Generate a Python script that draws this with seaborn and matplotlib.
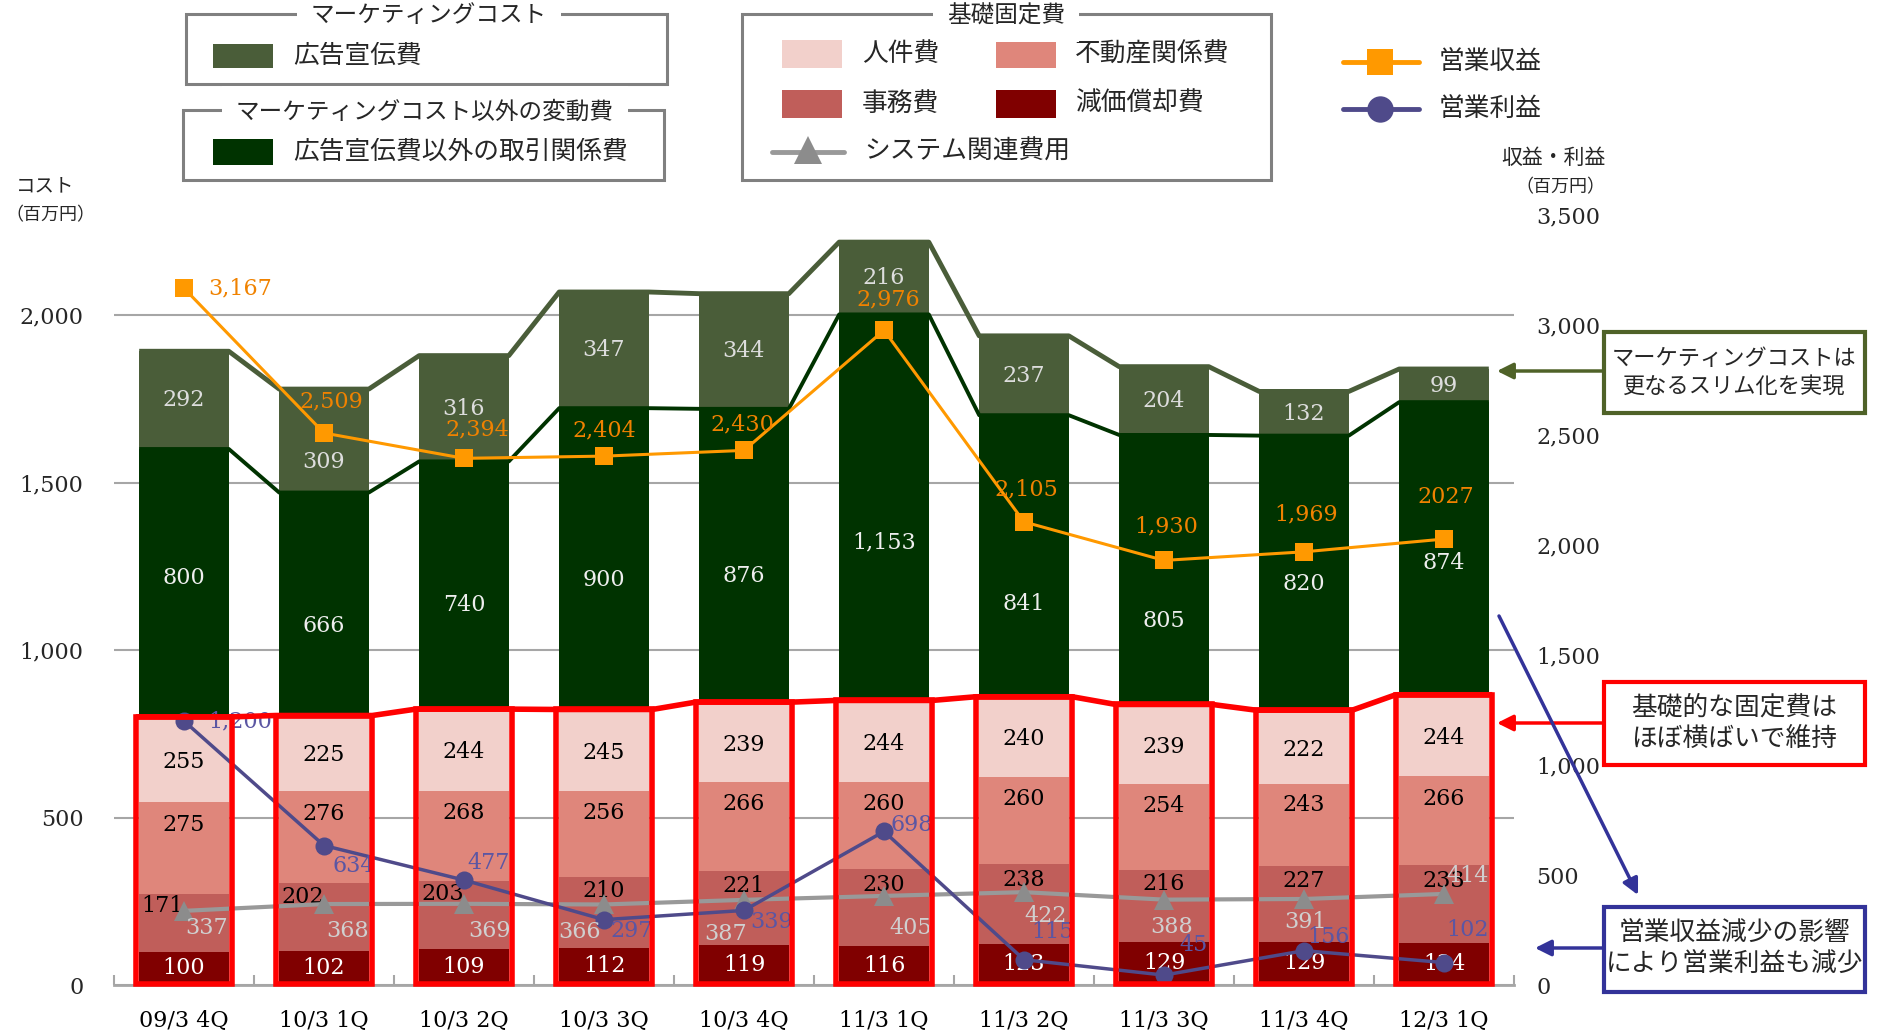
import numpy as np
import pandas as pd
import matplotlib
matplotlib.use("Agg")
import matplotlib.pyplot as plt
from matplotlib.patches import Rectangle, FancyArrowPatch
from matplotlib.lines import Line2D
from matplotlib.ticker import StrMethodFormatter
import seaborn as sns

# ---- data (百万円) ----
quarters = ["09/3 4Q", "10/3 1Q", "10/3 2Q", "10/3 3Q", "10/3 4Q",
            "11/3 1Q", "11/3 2Q", "11/3 3Q", "11/3 4Q", "12/3 1Q"]
depreciation = [100, 102, 109, 112, 119, 116, 123, 129, 129, 124]      # 減価償却費
office = [171, 202, 203, 210, 221, 230, 238, 216, 227, 233]            # 事務費
real_estate = [275, 276, 268, 256, 266, 260, 260, 254, 243, 266]       # 不動産関係費
personnel = [255, 225, 244, 245, 239, 244, 240, 239, 222, 244]         # 人件費
transaction = [800, 666, 740, 900, 876, 1153, 841, 805, 820, 874]      # 広告宣伝費以外の取引関係費
advertising = [292, 309, 316, 347, 344, 216, 237, 204, 132, 99]        # 広告宣伝費
revenue = [3167, 2509, 2394, 2404, 2430, 2976, 2105, 1930, 1969, 2027] # 営業収益
profit = [1200, 634, 477, 297, 339, 698, 115, 45, 156, 102]            # 営業利益
system_cost = [337, 368, 369, 366, 387, 405, 422, 388, 391, 414]       # システム関連費用
revenue_text = ["3,167", "2,509", "2,394", "2,404", "2,430",
                "2,976", "2,105", "1,930", "1,969", "2027"]

# ---- colours ----
C_ADV = "#4a5d39"
C_TRX = "#003300"
C_PER = "#f2d0cb"
C_EST = "#df867b"
C_OFF = "#c05e5a"
C_DEP = "#800000"
C_REV = "#ff9900"
C_PRO = "#4f4a8a"
C_SYS = "#999999"
C_RED = "#ff0000"
C_BLUE = "#333399"
C_OLIVE = "#4f6228"

W, H = 1877, 1032
sns.set_theme(style="white")
plt.rcParams["font.family"] = ["Noto Sans CJK JP", "DejaVu Sans"]
SERIF = ["DejaVu Serif"]

fig = plt.figure(figsize=(W / 100, H / 100), dpi=100)


def fx(x):
    return x / W


def fy(y):
    return 1 - y / H


ax = fig.add_axes([fx(114), fy(985), (1514 - 114) / W, (985 - 215) / H])
n = len(quarters)
xpos = np.arange(n)
BW = 0.64

df = pd.DataFrame({
    "quarter": quarters, "dep": depreciation, "off": office, "est": real_estate,
    "per": personnel, "trx": transaction, "adv": advertising,
})
layers = [("dep", C_DEP), ("off", C_OFF), ("est", C_EST), ("per", C_PER),
          ("trx", C_TRX), ("adv", C_ADV)]
tops = {}
acc = np.zeros(n)
bottoms = {}
for key, _ in layers:
    bottoms[key] = acc.copy()
    acc = acc + df[key].to_numpy()
    tops[key] = acc.copy()

# stacked bars: draw cumulative heights from the tallest down
for key, color in reversed(layers):
    sns.barplot(x=df["quarter"], y=tops[key], color=color, saturation=1,
                width=BW, errorbar=None, linewidth=0, ax=ax, zorder=2)

ax.set_xlim(-0.5, n - 0.5)
ax.set_ylim(0, 2300)
ax.set_yticks([0, 500, 1000, 1500, 2000])
ax.yaxis.set_major_formatter(StrMethodFormatter("{x:,.0f}"))
ax.yaxis.grid(True, color="#a6a6a6", lw=1.5)
ax.set_axisbelow(True)
for s in ["left", "top", "right"]:
    ax.spines[s].set_visible(False)
ax.spines["bottom"].set_color("#a6a6a6")
ax.spines["bottom"].set_linewidth(2)
ax.set_xlabel("")
ax.set_ylabel("")
ax.set_xticks(xpos)
ax.set_xticklabels(quarters, fontfamily=SERIF, fontsize=16)
ax.set_xticks(np.arange(-0.5, n, 1.0), minor=True)
ax.tick_params(axis="x", which="major", length=0, pad=18, colors="black")
ax.tick_params(axis="x", which="minor", length=7, width=1.5, direction="in",
               color="#a6a6a6", bottom=True)
ax.tick_params(axis="y", length=0, pad=22, labelsize=16)
for t in ax.get_yticklabels():
    t.set_fontfamily(SERIF)


# series lines joining the stack levels between bars
def series_line(level, color, lw, half, target, tf):
    xs, ys = [], []
    for i in range(n):
        xs += [i - half, i + half]
        ys += [level[i], level[i]]
    target.plot(xs, ys, color=color, lw=lw, transform=tf, zorder=3,
                solid_capstyle="butt", clip_on=False)


series_line(tops["adv"], C_ADV, 3.5, BW / 2, ax, ax.transData)
series_line(tops["trx"], C_TRX, 2.8, BW / 2, ax, ax.transData)

# segment value labels: vertical placement inside each segment
label_pos = {
    "dep": [0.5] * n,
    "off": [0.8] * n,
    "est": [0.75] * n,
    "per": [0.47] * n,
    "trx": [0.52, 0.40, 0.42, 0.43, 0.43, 0.41, 0.33, 0.31, 0.46, 0.45],
    "adv": [0.5, 0.3, 0.5, 0.5, 0.5, 0.5, 0.5, 0.5, 0.5, 0.5],
}
label_color = {"dep": "white", "off": "black", "est": "black", "per": "black",
               "trx": "#eeeeee", "adv": "#dddddd"}
for key, _ in layers:
    vals = df[key].to_numpy()
    for i in range(n):
        dx = -0.15 if (key == "off" and i < 3) else 0.0
        ax.text(i + dx, bottoms[key][i] + vals[i] * label_pos[key][i], f"{vals[i]:,}",
                ha="center", va="center", fontsize=16, color=label_color[key],
                fontfamily=SERIF, zorder=4)

# ---- right axis: revenue / profit / system cost ----
ax2 = ax.twinx()
ax2.set_ylim(0, 3500)
ax2.set_yticks(np.arange(0, 3501, 500))
ax2.yaxis.set_major_formatter(StrMethodFormatter("{x:,.0f}"))
ax2.tick_params(axis="y", length=0, pad=16, labelsize=16)
for t in ax2.get_yticklabels():
    t.set_fontfamily(SERIF)
for s in ax2.spines.values():
    s.set_visible(False)
ax2.grid(False)

sns.lineplot(x=xpos, y=system_cost, ax=ax2, color=C_SYS, lw=3, marker="^",
             markersize=15, markeredgewidth=0, markerfacecolor="#8c8c8c", zorder=2)
sns.lineplot(x=xpos, y=revenue, ax=ax2, color=C_REV, lw=2.2, marker="s",
             markersize=13, markeredgewidth=0, zorder=2)
sns.lineplot(x=xpos, y=profit, ax=ax2, color=C_PRO, lw=2.5, marker="o",
             markersize=13, markeredgewidth=0, zorder=2)
ax2.set_xlim(-0.5, n - 0.5)
ax2.set_ylim(0, 3500)
ax2.set_xlabel("")
ax2.set_ylabel("")

# red frames around the fixed-cost part of each bar
fixed_top = tops["per"]
RH = 0.345
for i in range(n):
    ax2.add_patch(Rectangle((i - RH, 3), 2 * RH, fixed_top[i] - 3,
                            transform=ax.transData, fill=False, ec=C_RED,
                            lw=4, zorder=3, clip_on=False))
series_line(fixed_top, C_RED, 4, RH, ax2, ax.transData)

# line value labels (offsets in pixels)
rev_off = [(56, 0), (7, 32), (13, 29), (0, 26), (-2, 26),
           (4, 31), (2, 32), (2, 34), (2, 37), (2, 42)]
pro_off = [(56, 0), (30, -20), (25, 17), (28, -11), (28, -12),
           (28, 6), (29, 28), (29, 30), (24, 14), (24, 33)]
sys_off = [(23, -17), (24, -27), (25, -27), (-24, -28), (-18, -34),
           (27, -32), (22, -24), (8, -27), (2, -23), (24, 18)]
for i in range(n):
    ax2.annotate(revenue_text[i], (i, revenue[i]), xytext=rev_off[i],
                 textcoords="offset pixels", ha="center", va="center",
                 fontsize=16, color="#f08200", fontfamily=SERIF, zorder=5)
    ax2.annotate(f"{profit[i]:,}", (i, profit[i]), xytext=pro_off[i],
                 textcoords="offset pixels", ha="center", va="center",
                 fontsize=16, color="#5b56a3", fontfamily=SERIF, zorder=2.5)
    ax2.annotate(f"{system_cost[i]:,}", (i, system_cost[i]), xytext=sys_off[i],
                 textcoords="offset pixels", ha="center", va="center",
                 fontsize=16, color="#d0d0d0", fontfamily=SERIF, zorder=2.5)

# ---- axis captions ----
fig.text(fx(45), fy(186), "コスト", ha="center", va="center", fontsize=14)
fig.text(fx(50), fy(215), "（百万円）", ha="center", va="center", fontsize=13)
fig.text(fx(1553), fy(158), "収益・利益", ha="center", va="center", fontsize=15)
fig.text(fx(1560), fy(187), "（百万円）", ha="center", va="center", fontsize=13)


# ---- legend panels ----
def frame(x0, y0, x1, y1, color="#808080", lw=2.2):
    fig.add_artist(Rectangle((fx(x0), fy(y1)), (x1 - x0) / W, (y1 - y0) / H,
                             transform=fig.transFigure, fill=False, ec=color, lw=lw))


def swatch(x0, y0, x1, y1, color):
    fig.add_artist(Rectangle((fx(x0), fy(y1)), (x1 - x0) / W, (y1 - y0) / H,
                             transform=fig.transFigure, fc=color, ec="none"))


def title(x, y, s):
    fig.text(fx(x), fy(y), s, ha="center", va="center", fontsize=17,
             bbox=dict(boxstyle="square,pad=0.6", fc="white", ec="none"), zorder=5)


def label(x, y, s, size=18.5):
    fig.text(fx(x), fy(y), s, ha="left", va="center", fontsize=size)


frame(186, 14, 667, 84)
title(429, 16, "マーケティングコスト")
swatch(213, 44, 273, 68, C_ADV)
label(293, 56, "広告宣伝費")

frame(183, 110, 664, 180)
title(425, 112, "マーケティングコスト以外の変動費")
swatch(213, 139, 273, 165, C_TRX)
label(293, 152, "広告宣伝費以外の取引関係費")

frame(742, 14, 1271, 180)
title(1006, 16, "基礎固定費")
swatch(782, 40, 842, 68, C_PER)
label(862, 54, "人件費")
swatch(996, 40, 1056, 68, C_EST)
label(1075, 54, "不動産関係費")
swatch(782, 90, 842, 118, C_OFF)
label(862, 104, "事務費")
swatch(996, 90, 1056, 118, C_DEP)
label(1075, 104, "減価償却費")
fig.add_artist(Line2D([fx(772), fx(844)], [fy(152), fy(152)], color=C_SYS, lw=3.5,
                      transform=fig.transFigure))
fig.add_artist(Line2D([fx(808)], [fy(150)], marker="^", ms=20, color="#8c8c8c",
                      mew=0, transform=fig.transFigure))
label(864, 152, "システム関連費用")

for yy, col, mk, txt in [(62, C_REV, "s", "営業収益"), (109, C_PRO, "o", "営業利益")]:
    fig.add_artist(Line2D([fx(1343), fx(1419)], [fy(yy), fy(yy)], color=col, lw=3.5,
                          transform=fig.transFigure))
    fig.add_artist(Line2D([fx(1380)], [fy(yy)], marker=mk, ms=19, color=col,
                          mew=0, transform=fig.transFigure))
    label(1439, yy, txt)


# ---- callouts ----
def arrow(p0, p1, color, lw=2.5):
    fig.add_artist(FancyArrowPatch((fx(p0[0]), fy(p0[1])), (fx(p1[0]), fy(p1[1])),
                                   transform=fig.transFigure, arrowstyle="-|>",
                                   mutation_scale=24, color=color, lw=lw,
                                   shrinkA=0, shrinkB=0))


def callout(x0, y0, x1, y1, color, text, size):
    fig.add_artist(Rectangle((fx(x0), fy(y1)), (x1 - x0) / W, (y1 - y0) / H,
                             transform=fig.transFigure, fc="white", ec=color, lw=3))
    fig.text(fx((x0 + x1) / 2), fy((y0 + y1) / 2), text, ha="center", va="center",
             fontsize=size, linespacing=1.25, zorder=5)


callout(1604, 332, 1865, 413, C_OLIVE, "マーケティングコストは\n更なるスリム化を実現", 16)
arrow((1604, 371), (1497, 371), C_OLIVE)
callout(1604, 682, 1865, 765, C_RED, "基礎的な固定費は\nほぼ横ばいで維持", 18.5)
arrow((1604, 723), (1497, 723), C_RED)
callout(1604, 907, 1865, 992, C_BLUE, "営業収益減少の影響\nにより営業利益も減少", 18.5)
arrow((1604, 948), (1535, 948), C_BLUE)
arrow((1499, 616), (1638, 895), C_BLUE)

fig.savefig("out.png", dpi=100, facecolor="white")
